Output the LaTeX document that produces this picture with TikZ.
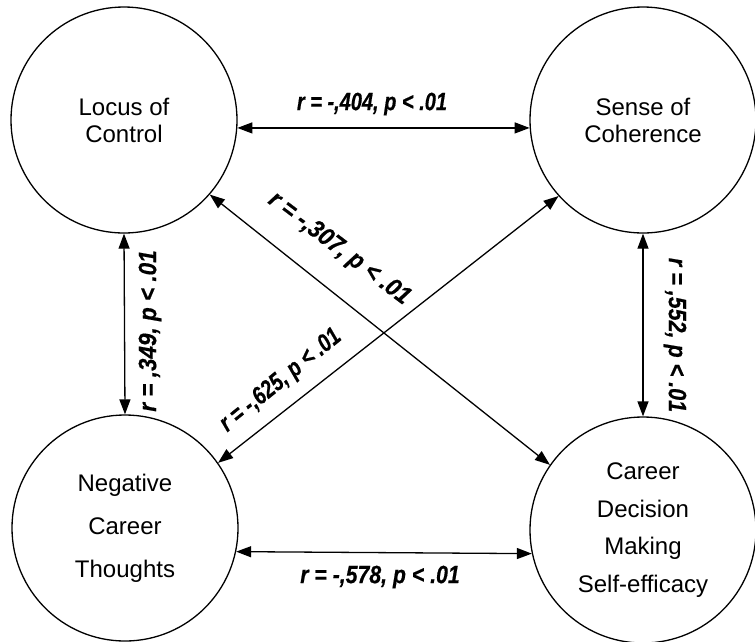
\documentclass[tikz,border=0pt]{standalone}
\usepackage{fontspec}
\usepackage{graphicx}
\setmainfont{Liberation Sans}
\newfontfamily\corrfont{Liberation Sans}[BoldItalicFeatures={FakeBold=0.6}]
\usetikzlibrary{arrows.meta}

% correlation text, squeezed sideways
\newcommand\corrtext[2]{\scalebox{#1}[1]{\corrfont\bfseries\itshape #2}}

\begin{document}
\begin{tikzpicture}[x=1pt,y=-1pt,
    construct/.style={draw, line width=1.3pt, circle, minimum size=226pt,
      inner sep=0pt, align=center},
    corr/.style={line width=1.3pt,
      {Triangle[length=15pt,width=11pt]}-{Triangle[length=15pt,width=11pt]}},
    corrlabel/.style={font=\fontsize{25}{28}\selectfont, inner sep=0pt}]
  \useasboundingbox (0,0) rectangle (755,641);

  % constructs
  \node[construct, font=\fontsize{24}{27}\selectfont]   (loc) at (124,120) {Locus of\\Control};
  \node[construct, font=\fontsize{24}{27}\selectfont]   (soc) at (643,120) {Sense of\\Coherence};
  \node[construct, font=\fontsize{24}{43}\selectfont]   (nct) at (125,528) {Negative\\Career\\Thoughts};
  \node[construct, font=\fontsize{24}{37.5}\selectfont] (cdm) at (643,530) {Career\\Decision\\Making\\Self-efficacy};

  % correlations
  \draw[corr] (loc.-4)  -- (soc.184);
  \draw[corr] (nct.-12) -- (cdm.192);
  \draw[corr] (loc.south) -- (nct.north);
  \draw[corr] (soc.south) -- (cdm.north);
  \draw[corr] (loc.-41) -- (cdm.145);
  \draw[corr] (nct.35)  -- (soc.222);

  \node[corrlabel] (r404) at (372,104) {\corrtext{0.80}{r = -,404, p < .01}};
  \node[corrlabel] (r578) at (380,577) {\corrtext{0.85}{r = -,578, p < .01}};
  \node[corrlabel, rotate=90]  (r349) at (150,331) {\corrtext{0.90}{r = ,349, p < .01}};
  \node[corrlabel, rotate=-90] (r552) at (675,335) {\corrtext{0.86}{r = ,552, p < .01}};
  \node[corrlabel, rotate=-37] (r307) at (339,249) {\corrtext{0.91}{r = -,307, p < .01}};
  \node[corrlabel, rotate=39]  (r625) at (281,381) {\corrtext{0.79}{r = -,625, p < .01}};
\end{tikzpicture}
\end{document}
